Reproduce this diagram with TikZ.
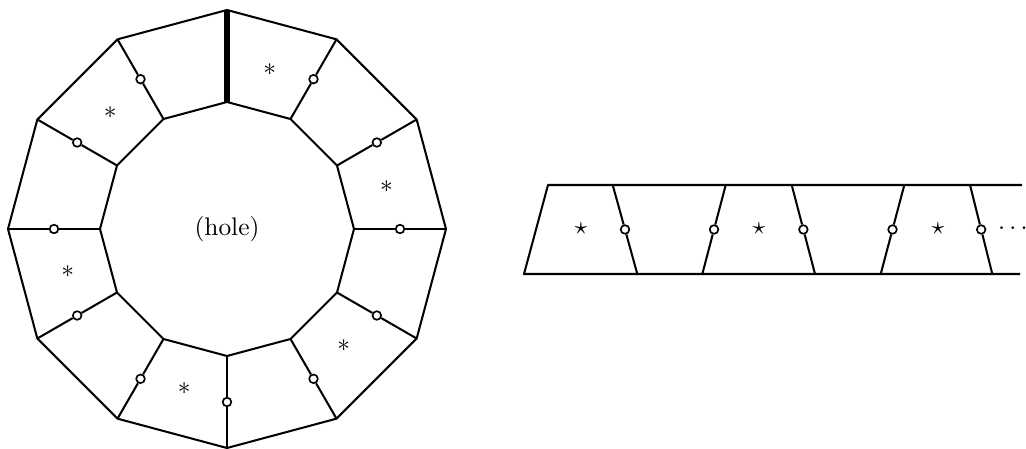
\documentclass[tikz,border=0pt]{standalone}
\usetikzlibrary{calc}
\begin{document}
\begin{tikzpicture}[x=0.3937pt,y=0.3937pt,
  edge/.style={line width=0.8pt,line join=round},
  heavy/.style={line width=2pt},
  joint/.style={circle,draw,fill=white,line width=0.65pt,inner sep=0pt,minimum size=3.4pt},
  lab/.style={inner sep=0pt}]
\useasboundingbox (0,0) rectangle (1026,448);
% ---- left: annulus ----
\coordinate (C) at (227,219);
\foreach \k in {0,...,11}{
  \coordinate (O\k) at ($(C)+({90-30*\k}:219)$);
  \coordinate (I\k) at ($(C)+({90-30*\k}:127)$);
}
\draw[edge] (O0) \foreach \k in {1,...,11}{ -- (O\k) } -- cycle;
\draw[edge] (I0) \foreach \k in {1,...,11}{ -- (I\k) } -- cycle;
\draw[heavy] (O0) -- (I0);
\foreach \k in {1,...,11}{
  \node[joint] (J\k) at ($(O\k)!0.5!(I\k)$) {};
  \draw[edge] (O\k) -- (J\k) -- (I\k);
}
\foreach \j in {0,...,5}{
  \node[lab] (S\j) at ($(C)+({75-60*\j}:165)$) {$*$};
}
\node[lab] (hole) at (C) {(hole)};
% ---- right: strip ----
\coordinate (TL) at (548,263);
\coordinate (BL) at (524,174);
\coordinate (TR) at (1022,263);
\coordinate (BR) at (1020,174);
\draw[edge] (BR) -- (BL) -- (TL) -- (TR);
\foreach \n/\t/\b/\m in {1/612.7/637.3/625, 2/725.7/702.3/714, 3/791.7/815/803.3, 4/904.3/880.7/892.5, 5/970/992.3/981.2}{
  \coordinate (ST\n) at (\t,263);
  \coordinate (SB\n) at (\b,174);
  \node[joint] (K\n) at ($(ST\n)!0.5!(SB\n)$) {};
  \draw[edge] (ST\n) -- (K\n) -- (SB\n);
}
\node[lab] (st1) at (581,219) {$\star$};
\node[lab] (st2) at (759,219) {$\star$};
\node[lab] (st3) at (938,219) {$\star$};
\node[lab] (dots) at (1013,219) {$\cdots$};
\end{tikzpicture}
\end{document}
